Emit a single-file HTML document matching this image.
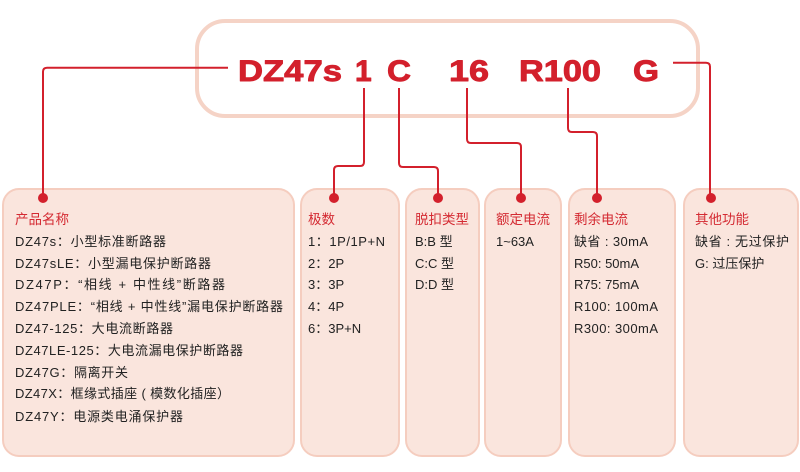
<!DOCTYPE html>
<html><head><meta charset="utf-8">
<style>
html,body{margin:0;padding:0;background:#fff;}
svg{display:block;}
.t{font-family:"Liberation Sans","Noto Sans CJK SC",sans-serif;font-size:13px;fill:#222;}
.h{font-family:"Liberation Sans","Noto Sans CJK SC",sans-serif;font-size:13.5px;fill:#d42a32;}
.big{font-family:"Liberation Sans",Arial,sans-serif;font-weight:bold;font-size:30px;fill:#d3202c;stroke:#d3202c;stroke-width:0.9;stroke-linejoin:round;}
.ln{fill:none;stroke:#d3202c;stroke-width:2;}
.bx{fill:#fae5dd;stroke:#f5cdbf;stroke-width:2;}
</style></head>
<body>
<svg width="800" height="472" viewBox="0 0 800 472" xmlns="http://www.w3.org/2000/svg">
<rect x="197" y="21" width="501" height="95" rx="28" ry="28" fill="#fff" stroke="#f5d3c6" stroke-width="4"/>
<text class="big" x="238" y="81" textLength="104" lengthAdjust="spacingAndGlyphs">DZ47s</text>
<text class="big" x="355" y="81">1</text>
<text class="big" x="387" y="81" textLength="24" lengthAdjust="spacingAndGlyphs">C</text>
<text class="big" x="449" y="81" textLength="40" lengthAdjust="spacingAndGlyphs">16</text>
<text class="big" x="519" y="81" textLength="82" lengthAdjust="spacingAndGlyphs">R100</text>
<text class="big" x="633" y="81" textLength="26" lengthAdjust="spacingAndGlyphs">G</text>

<rect class="bx" x="3" y="189" width="291" height="267" rx="16"/>
<rect class="bx" x="301" y="189" width="98" height="267" rx="16"/>
<rect class="bx" x="406" y="189" width="73" height="267" rx="16"/>
<rect class="bx" x="485" y="189" width="76" height="267" rx="16"/>
<rect class="bx" x="569" y="189" width="106" height="267" rx="16"/>
<rect class="bx" x="684" y="189" width="114" height="267" rx="16"/>

<path class="ln" d="M228,67.7 H47 Q43,67.7 43,71.7 V198"/>
<path class="ln" d="M364,88 V162 Q364,166 360,166 H338 Q334,166 334,170 V198"/>
<path class="ln" d="M399,88 V163 Q399,167 403,167 H434 Q438,167 438,171 V198"/>
<path class="ln" d="M467,88 V139 Q467,143 471,143 H517 Q521,143 521,147 V198"/>
<path class="ln" d="M568,88 V128 Q568,132 572,132 H593 Q597,132 597,136 V198"/>
<path class="ln" d="M673,62.7 H706 Q710,62.7 710,66.7 V198"/>
<g fill="#d3202c">
<circle cx="43" cy="198" r="5"/>
<circle cx="334" cy="198" r="5"/>
<circle cx="438" cy="198" r="5"/>
<circle cx="521" cy="198" r="5"/>
<circle cx="597" cy="198" r="5"/>
<circle cx="711" cy="198" r="5"/>
</g>

<text class="h" x="15" y="224">产品名称</text>
<text class="t" x="15" y="246" textLength="151">DZ47s：小型标准断路器</text>
<text class="t" x="15" y="268" textLength="196">DZ47sLE：小型漏电保护断路器</text>
<text class="t" x="15" y="289" textLength="210">DZ47P：“相线 + 中性线”断路器</text>
<text class="t" x="15" y="311" textLength="268">DZ47PLE：“相线 + 中性线”漏电保护断路器</text>
<text class="t" x="15" y="333" textLength="158">DZ47-125：大电流断路器</text>
<text class="t" x="15" y="355" textLength="228">DZ47LE-125：大电流漏电保护断路器</text>
<text class="t" x="15" y="377" textLength="113">DZ47G：隔离开关</text>
<text class="t" x="15" y="398" textLength="215">DZ47X：框缘式插座 ( 模数化插座）</text>
<text class="t" x="15" y="421" textLength="168">DZ47Y：电源类电涌保护器</text>

<text class="h" x="308" y="224">极数</text>
<text class="t" x="308" y="246" textLength="77">1：1P/1P+N</text>
<text class="t" x="308" y="268">2：2P</text>
<text class="t" x="308" y="289">3：3P</text>
<text class="t" x="308" y="311">4：4P</text>
<text class="t" x="308" y="333">6：3P+N</text>

<text class="h" x="415" y="224">脱扣类型</text>
<text class="t" x="415" y="246">B:B 型</text>
<text class="t" x="415" y="268">C:C 型</text>
<text class="t" x="415" y="289">D:D 型</text>

<text class="h" x="496" y="224">额定电流</text>
<text class="t" x="496" y="246">1~63A</text>

<text class="h" x="574" y="224">剩余电流</text>
<text class="t" x="574" y="246" textLength="74">缺省 : 30mA</text>
<text class="t" x="574" y="268">R50: 50mA</text>
<text class="t" x="574" y="289">R75: 75mA</text>
<text class="t" x="574" y="311" textLength="84">R100: 100mA</text>
<text class="t" x="574" y="333" textLength="84">R300: 300mA</text>

<text class="h" x="695" y="224">其他功能</text>
<text class="t" x="695" y="246" textLength="94">缺省 : 无过保护</text>
<text class="t" x="695" y="268">G: 过压保护</text>
</svg>
</body></html>
